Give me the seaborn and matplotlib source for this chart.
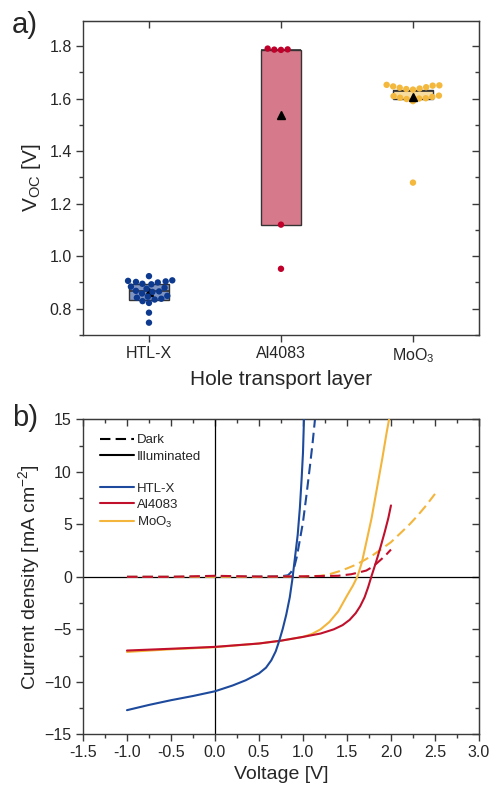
import numpy as np
import pandas as pd
import matplotlib
matplotlib.use("Agg")
import matplotlib.pyplot as plt
import seaborn as sns
from matplotlib.lines import Line2D
from matplotlib.ticker import MultipleLocator

# ---------------- data: panel a ----------------
layers = ["HTL-X", "Al4083", "MoO3"]
layer_labels = ["HTL-X", "Al4083", "MoO$_3$"]
voc_htlx = [0.924, 0.908, 0.906, 0.904, 0.902, 0.900, 0.895, 0.893, 0.884, 0.880,
            0.876, 0.868, 0.866, 0.864, 0.858, 0.849, 0.846, 0.842, 0.838, 0.835,
            0.829, 0.822, 0.785, 0.747]
voc_al4083 = [1.790, 1.787, 1.785, 1.786, 1.120, 0.952]
voc_moo3 = [1.652, 1.650, 1.649, 1.646, 1.643, 1.641, 1.638, 1.636, 1.634,
            1.611, 1.609, 1.606, 1.603, 1.601, 1.600, 1.598, 1.590, 1.280]
box_q1 = [0.833, 1.118, 1.600]
box_q3 = [0.896, 1.786, 1.631]
box_med = [0.866, 1.786, 1.628]

# ---------------- data: panel b ----------------
v_htlx_light = [-1.0, -0.75, -0.5, -0.25, 0.0, 0.2, 0.35, 0.5, 0.58, 0.64, 0.69, 0.73,
                0.77, 0.81, 0.85, 0.88, 0.91, 0.94, 0.965, 0.985, 1.0, 1.012]
j_htlx_light = [-12.7, -12.2, -11.75, -11.35, -10.9, -10.35, -9.85, -9.2, -8.65, -7.95,
                -7.1, -6.1, -4.95, -3.6, -1.95, -0.2, 1.9, 4.0, 6.6, 9.4, 11.8, 15.2]
v_al_light = [-1.0, -0.5, 0.0, 0.5, 0.75, 1.0, 1.2, 1.35, 1.45, 1.53, 1.6, 1.65, 1.7,
              1.74, 1.78, 1.83, 1.88, 1.93, 1.97, 2.0]
j_al_light = [-7.02, -6.85, -6.67, -6.35, -6.08, -5.72, -5.4, -5.0, -4.6, -4.1, -3.45,
              -2.8, -1.95, -1.0, 0.1, 1.4, 2.8, 4.3, 5.6, 6.8]
v_moo3_light = [-1.0, -0.5, 0.0, 0.5, 0.75, 1.0, 1.1, 1.2, 1.3, 1.4, 1.5, 1.57, 1.62,
                1.67, 1.72, 1.78, 1.84, 1.9, 1.95, 1.985]
j_moo3_light = [-7.15, -6.9, -6.7, -6.35, -6.08, -5.72, -5.45, -5.0, -4.3, -3.3, -1.8,
                -0.8, 0.05, 1.4, 3.3, 5.6, 8.4, 11.2, 13.7, 15.3]

v_htlx_dark = [-1.0, -0.5, 0.0, 0.5, 0.75, 0.83, 0.86, 0.9, 0.93, 0.96, 1.0, 1.04,
               1.08, 1.11, 1.14]
j_htlx_dark = [0.0, 0.0, 0.0, 0.02, 0.05, 0.15, 0.4, 0.9, 1.9, 3.3, 5.2, 7.8, 10.6,
               12.8, 15.3]
v_al_dark = [-1.0, -0.5, 0.0, 0.5, 1.0, 1.4, 1.55, 1.65, 1.72, 1.78, 1.84, 1.9, 1.95, 2.0]
j_al_dark = [0.0, 0.0, 0.1, 0.02, 0.05, 0.1, 0.25, 0.45, 0.6, 0.9, 1.3, 1.75, 2.15, 2.6]
v_moo3_dark = [-1.0, 0.0, 0.5, 1.0, 1.2, 1.3, 1.4, 1.5, 1.6, 1.7, 1.8, 1.9, 2.0, 2.1,
               2.2, 2.3, 2.4, 2.5]
j_moo3_dark = [0.0, 0.0, 0.0, 0.02, 0.1, 0.25, 0.5, 0.8, 1.15, 1.6, 2.1, 2.7, 3.3, 4.1,
               4.9, 5.8, 6.8, 7.9]

# ---------------- style ----------------
point_colors = ["#0d3a8e", "#c0002a", "#f3b83c"]
box_fill = ["#8195c3", "#d67a8b", "#f7dca0"]
line_colors = ["#1d4a9c", "#c0102c", "#f3b53c"]
spine_c = "#3a3a3a"
dash = (0, (5, 2.5))

sns.set_style("white")
plt.rcParams["font.family"] = ["Liberation Sans", "DejaVu Sans"]
plt.rcParams["mathtext.default"] = "regular"

fig = plt.figure(figsize=(4.91, 7.89), dpi=100)
ax1 = fig.add_axes([0.169, 0.5754, 0.8065, 0.398])
ax2 = fig.add_axes([0.169, 0.0693, 0.8065, 0.3992])

# ---------------- panel a ----------------
df = pd.DataFrame({
    "layer": [layers[0]] * len(voc_htlx) + [layers[1]] * len(voc_al4083) + [layers[2]] * len(voc_moo3),
    "voc": voc_htlx + voc_al4083 + voc_moo3,
})
sns.swarmplot(data=df, x="layer", y="voc", hue="layer", order=layers, hue_order=layers,
              palette=point_colors, size=4.6, linewidth=0, legend=False, ax=ax1, zorder=3)

stats = []
for i, vals in enumerate([voc_htlx, voc_al4083, voc_moo3]):
    stats.append(dict(label=layers[i], q1=box_q1[i], q3=box_q3[i], med=box_med[i],
                      whislo=box_q1[i], whishi=box_q3[i], mean=float(np.mean(vals)), fliers=[]))
bp = ax1.bxp(stats, positions=[0, 1, 2], widths=0.31, patch_artist=True, showmeans=True,
             showcaps=False, manage_ticks=False,
             meanprops=dict(marker="^", markerfacecolor="black", markeredgecolor="black", markersize=6),
             medianprops=dict(color="#333333", lw=1.2),
             boxprops=dict(edgecolor="#333333", lw=1.0),
             whiskerprops=dict(lw=0))
for patch, c in zip(bp["boxes"], box_fill):
    patch.set_facecolor(c)
    patch.set_zorder(2)
for m in bp["means"]:
    m.set_zorder(5)
bp["means"][0].set_zorder(2.8)
for m in bp["medians"]:
    m.set_zorder(2.5)

ax1.set_xlim(-0.5, 2.5)
ax1.set_ylim(0.70, 1.895)
ax1.set_xticks([0, 1, 2])
ax1.set_xticklabels(layer_labels)
ax1.yaxis.set_major_locator(MultipleLocator(0.2))
ax1.yaxis.set_minor_locator(MultipleLocator(0.1))
ax1.yaxis.set_major_formatter(matplotlib.ticker.FormatStrFormatter("%.1f"))
ax1.set_xlabel("Hole transport layer", fontsize=15)
ax1.set_ylabel("V$_{OC}$ [V]", fontsize=15, labelpad=5)

# ---------------- panel b ----------------
ax2.axhline(0, color="black", lw=0.9, zorder=1)
ax2.axvline(0, color="black", lw=0.9, zorder=1)
for v, j, c in [(v_htlx_dark, j_htlx_dark, line_colors[0]),
                (v_moo3_dark, j_moo3_dark, line_colors[2]),
                (v_al_dark, j_al_dark, line_colors[1])]:
    sns.lineplot(x=v, y=j, color=c, lw=1.5, linestyle=dash, sort=False,
                 estimator=None, ax=ax2, zorder=2)
for v, j, c in [(v_moo3_light, j_moo3_light, line_colors[2]),
                (v_al_light, j_al_light, line_colors[1]),
                (v_htlx_light, j_htlx_light, line_colors[0])]:
    sns.lineplot(x=v, y=j, color=c, lw=1.5, sort=False, estimator=None, ax=ax2, zorder=3)

ax2.set_xlim(-1.5, 3.0)
ax2.set_ylim(-15, 15)
ax2.xaxis.set_major_locator(MultipleLocator(0.5))
ax2.xaxis.set_minor_locator(MultipleLocator(0.25))
ax2.yaxis.set_major_locator(MultipleLocator(5))
ax2.yaxis.set_minor_locator(MultipleLocator(2.5))
ax2.xaxis.set_major_formatter(matplotlib.ticker.FormatStrFormatter("%.1f"))
ax2.set_xlabel("Voltage [V]", fontsize=14)
ax2.set_ylabel("Current density [mA cm$^{-2}$]", fontsize=14, labelpad=2)

handles = [
    Line2D([], [], color="black", lw=1.5, linestyle=dash, label="Dark"),
    Line2D([], [], color="black", lw=1.5, label="Illuminated"),
    Line2D([], [], color="none", lw=0, label=" "),
    Line2D([], [], color=line_colors[0], lw=1.5, label="HTL-X"),
    Line2D([], [], color=line_colors[1], lw=1.5, label="Al4083"),
    Line2D([], [], color=line_colors[2], lw=1.5, label="MoO$_3$"),
]
ax2.legend(handles=handles, loc="upper left", bbox_to_anchor=(0.03, 0.97), frameon=False,
           fontsize=9.5, handlelength=2.6, handletextpad=0.2, labelspacing=0.3,
           borderaxespad=0.0)

# ---------------- axes styling ----------------
for ax in (ax1, ax2):
    for s in ax.spines.values():
        s.set_color(spine_c)
        s.set_linewidth(1.0)
        s.set_visible(True)
    ax.tick_params(axis="both", which="major", direction="out", length=5, width=1.0,
                   color=spine_c, labelsize=11.5, pad=3)
    ax.tick_params(axis="both", which="minor", direction="out", length=3, width=1.0,
                   color=spine_c)
    ax.tick_params(left=True, bottom=True, top=False, right=False, which="both")

# mirrored inward ticks on top/right
sy1 = ax1.secondary_yaxis("right")
sy1.yaxis.set_major_locator(MultipleLocator(0.2))
sy1.yaxis.set_minor_locator(MultipleLocator(0.1))
sy1.tick_params(which="major", direction="in", length=5, width=1.0, color=spine_c, labelright=False)
sy1.tick_params(which="minor", direction="in", length=3, width=1.0, color=spine_c)
sy1.spines["right"].set_color(spine_c)
sx1 = ax1.secondary_xaxis("top")
sx1.set_xticks([0, 1, 2])
sx1.tick_params(which="major", direction="in", length=5, width=1.0, color=spine_c, labeltop=False)
sx1.spines["top"].set_color(spine_c)

sy2 = ax2.secondary_yaxis("right")
sy2.yaxis.set_major_locator(MultipleLocator(5))
sy2.yaxis.set_minor_locator(MultipleLocator(2.5))
sy2.tick_params(which="major", direction="in", length=5, width=1.0, color=spine_c, labelright=False)
sy2.tick_params(which="minor", direction="in", length=3, width=1.0, color=spine_c)
sy2.spines["right"].set_color(spine_c)
sx2 = ax2.secondary_xaxis("top")
sx2.xaxis.set_major_locator(MultipleLocator(0.5))
sx2.xaxis.set_minor_locator(MultipleLocator(0.25))
sx2.tick_params(which="major", direction="in", length=5, width=1.0, color=spine_c, labeltop=False)
sx2.tick_params(which="minor", direction="in", length=3, width=1.0, color=spine_c)
sx2.spines["top"].set_color(spine_c)

fig.text(0.024, 0.986, "a)", fontsize=21, va="top", ha="left")
fig.text(0.024, 0.488, "b)", fontsize=21, va="top", ha="left")

fig.savefig("out.png", dpi=100)
